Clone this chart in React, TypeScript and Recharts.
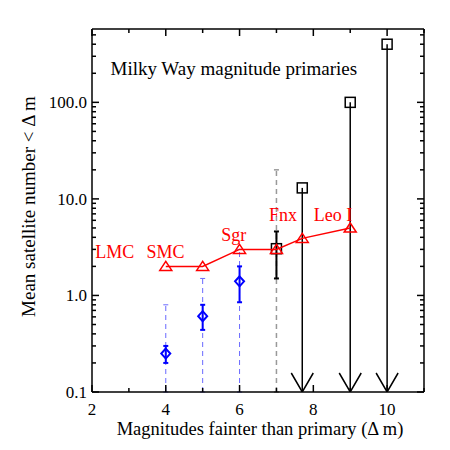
import React from 'react'
import { ComposedChart, Scatter, XAxis, YAxis, ErrorBar } from 'recharts'

// axis ticks
const xTicks = [2, 3, 4, 5, 6, 7, 8, 9, 10, 11]
const xLabelled = [2, 4, 6, 8, 10]
const yMajor = [0.1, 1, 10, 100]
const yMajorLabels = ['0.1', '1.0', '10.0', '100.0']
const yMinor = [0.2, 0.3, 0.4, 0.5, 0.6, 0.7, 0.8, 0.9, 2, 3, 4, 5, 6, 7, 8, 9, 20, 30, 40, 50, 60, 70, 80, 90, 200, 300, 400, 500]
const yMin = 0.1
const yMax = 575

// Milky Way primaries (red triangles)
const primaryDm = [4, 5, 6, 7, 7.7, 9]
const primaryN = [2, 2, 3, 3, 3.9, 5]

// satellite names, placed at (dm, n)
const nameText = ['LMC', 'SMC', 'Sgr', 'Fnx', 'Leo I']
const nameDm = [2.62, 3.99, 5.84, 7.18, 8.53]
const nameN = [2.82, 2.82, 4.23, 6.86, 6.86]

// blue diamonds with errors and dashed upper extents
const blueDm = [4, 5, 6]
const blueN = [0.25, 0.61, 1.4]
const blueLo = [0.2, 0.44, 0.85]
const blueHi = [0.3, 0.8, 2.0]
const blueMax = [0.8, 1.5, 3.0]

// black square with error bar
const blackDm = [7]
const blackN = [3.05]
const blackLo = [1.5]
const blackHi = [4.6]
const blackMax = [20]

// upper limits (squares with arrows)
const limDm = [7.7, 9, 10]
const limN = [13, 100, 400]

const FONT = 'Liberation Serif'

const primaryData = primaryDm.map((x, i) => ({ x, y: primaryN[i] }))
const nameData = nameText.map((name, i) => ({ x: nameDm[i], y: nameN[i], name }))
const blueData = blueDm.map((x, i) => ({
  x,
  y: blueN[i],
  err: [blueN[i] - blueLo[i], blueHi[i] - blueN[i]],
  dash: [blueN[i] - yMin, blueMax[i] - blueN[i]],
}))
const blackData = blackDm.map((x, i) => ({
  x,
  y: blackN[i],
  err: [blackN[i] - blackLo[i], blackHi[i] - blackN[i]],
  dash: [blackN[i] - yMin, blackMax[i] - blackN[i]],
}))
const limData = limDm.map((x, i) => ({ x, y: limN[i], err: [limN[i] - yMin, 0] }))
const arrowData = limDm.map((x) => ({ x, y: yMin }))

function Triangle({ cx, cy }: any) {
  return <path d={`M${cx - 6},${cy + 4} L${cx + 6},${cy + 4} L${cx},${cy - 5} Z`} fill="none" stroke="#ff0000" strokeWidth={1.5} />
}

function Diamond({ cx, cy }: any) {
  return <path d={`M${cx},${cy - 5} L${cx + 4.5},${cy} L${cx},${cy + 5} L${cx - 4.5},${cy} Z`} fill="none" stroke="#0000ff" strokeWidth={2} />
}

function Square({ cx, cy }: any) {
  return <rect x={cx - 5} y={cy - 5} width={10} height={10} fill="none" stroke="#000" strokeWidth={1.5} />
}

function Arrow({ cx, cy }: any) {
  return <path d={`M${cx - 11},${cy - 19} L${cx},${cy} L${cx + 11},${cy - 19}`} fill="none" stroke="#000" strokeWidth={1.5} />
}

function Name({ cx, cy, payload }: any) {
  return (
    <text x={cx} y={cy} dy="0.33em" textAnchor="middle" fill="#ff0000" fontFamily={FONT} fontSize={18}>
      {payload.name}
    </text>
  )
}

function BottomTick({ x, y, payload }: any) {
  const major = xLabelled.includes(payload.value)
  return (
    <g>
      <line x1={x} x2={x} y1={y} y2={y - (major ? 7 : 4)} stroke="#000" strokeWidth={1.5} />
      {major && (
        <text x={x} y={y + 22.5} textAnchor="middle" fontFamily={FONT} fontSize={17} fill="#000">
          {payload.value}
        </text>
      )}
    </g>
  )
}

function TopTick({ x, y, payload }: any) {
  const major = xLabelled.includes(payload.value)
  return <line x1={x} x2={x} y1={y} y2={y + (major ? 7 : 4)} stroke="#000" strokeWidth={1.5} />
}

function LeftTick({ x, y, payload }: any) {
  const idx = yMajor.indexOf(payload.value)
  const major = idx >= 0
  return (
    <g>
      <line x1={x} x2={x + (major ? 7 : 4)} y1={y} y2={y} stroke="#000" strokeWidth={1.5} />
      {major && (
        <text x={x - 5} y={y + 5.7} textAnchor="end" fontFamily={FONT} fontSize={17} fill="#000">
          {yMajorLabels[idx]}
        </text>
      )}
    </g>
  )
}

function RightTick({ x, y, payload }: any) {
  const major = yMajor.includes(payload.value)
  return <line x1={x} x2={x - (major ? 7 : 4)} y1={y} y2={y} stroke="#000" strokeWidth={1.5} />
}

const axisLine = { stroke: '#000', strokeWidth: 1.5 }

export default function App() {
  return (
    <div style={{ position: 'absolute', left: 0, top: 0, background: '#fff' }}>
      <ComposedChart width={450} height={450} margin={{ top: 28, right: 25, bottom: 57, left: 91 }}>
        <XAxis xAxisId="b" dataKey="x" type="number" domain={[2, 11]} ticks={xTicks} interval={0}
          height={1} tickSize={0} tickMargin={0} tickLine={false} axisLine={axisLine} tick={<BottomTick />} allowDataOverflow />
        <XAxis xAxisId="t" orientation="top" dataKey="x" type="number" domain={[2, 11]} ticks={xTicks} interval={0}
          height={1} tickSize={0} tickMargin={0} tickLine={false} axisLine={axisLine} tick={<TopTick />} allowDataOverflow />
        <YAxis yAxisId="l" dataKey="y" type="number" scale="log" domain={[yMin, yMax]} ticks={[...yMajor, ...yMinor]} interval={0}
          width={1} tickSize={0} tickMargin={0} tickLine={false} axisLine={axisLine} tick={<LeftTick />} allowDataOverflow />
        <YAxis yAxisId="r" orientation="right" dataKey="y" type="number" scale="log" domain={[yMin, yMax]} ticks={[...yMajor, ...yMinor]} interval={0}
          width={1} tickSize={0} tickMargin={0} tickLine={false} axisLine={axisLine} tick={<RightTick />} allowDataOverflow />

        <Scatter xAxisId="b" yAxisId="l" data={blueData} shape={<Diamond />} isAnimationActive={false}>
          <ErrorBar dataKey="dash" direction="y" width={2.5} stroke="#6a6aff" strokeWidth={1} strokeDasharray="5 4" isAnimationActive={false} />
          <ErrorBar dataKey="err" direction="y" width={2.5} stroke="#0000ff" strokeWidth={2} isAnimationActive={false} />
        </Scatter>
        <Scatter xAxisId="b" yAxisId="l" data={blackData} shape={<Square />} isAnimationActive={false}>
          <ErrorBar dataKey="dash" direction="y" width={2.5} stroke="#999" strokeWidth={1.5} strokeDasharray="5 4" isAnimationActive={false} />
          <ErrorBar dataKey="err" direction="y" width={2.5} stroke="#000" strokeWidth={2} isAnimationActive={false} />
        </Scatter>
        <Scatter xAxisId="b" yAxisId="l" data={limData} shape={<Square />} isAnimationActive={false}>
          <ErrorBar dataKey="err" direction="y" width={0} stroke="#000" strokeWidth={1.5} isAnimationActive={false} />
        </Scatter>
        <Scatter xAxisId="b" yAxisId="l" data={arrowData} shape={<Arrow />} isAnimationActive={false} />
        <Scatter xAxisId="b" yAxisId="l" data={primaryData} shape={<Triangle />} line={{ stroke: '#ff0000', strokeWidth: 1.5 }} lineType="joint" isAnimationActive={false} />
        <Scatter xAxisId="b" yAxisId="l" data={nameData} shape={<Name />} isAnimationActive={false} />

        <text x={110.5} y={75} fontFamily={FONT} fontSize={19} fill="#000">Milky Way magnitude primaries</text>
        <text x={260} y={434.5} textAnchor="middle" fontFamily={FONT} fontSize={18.5} fill="#000">Magnitudes fainter than primary (Δ m)</text>
        <text x={35} y={206.5} textAnchor="middle" transform="rotate(-90 35 206.5)" fontFamily={FONT} fontSize={19} fill="#000">Mean satellite number &lt; Δ m</text>
      </ComposedChart>
    </div>
  )
}
